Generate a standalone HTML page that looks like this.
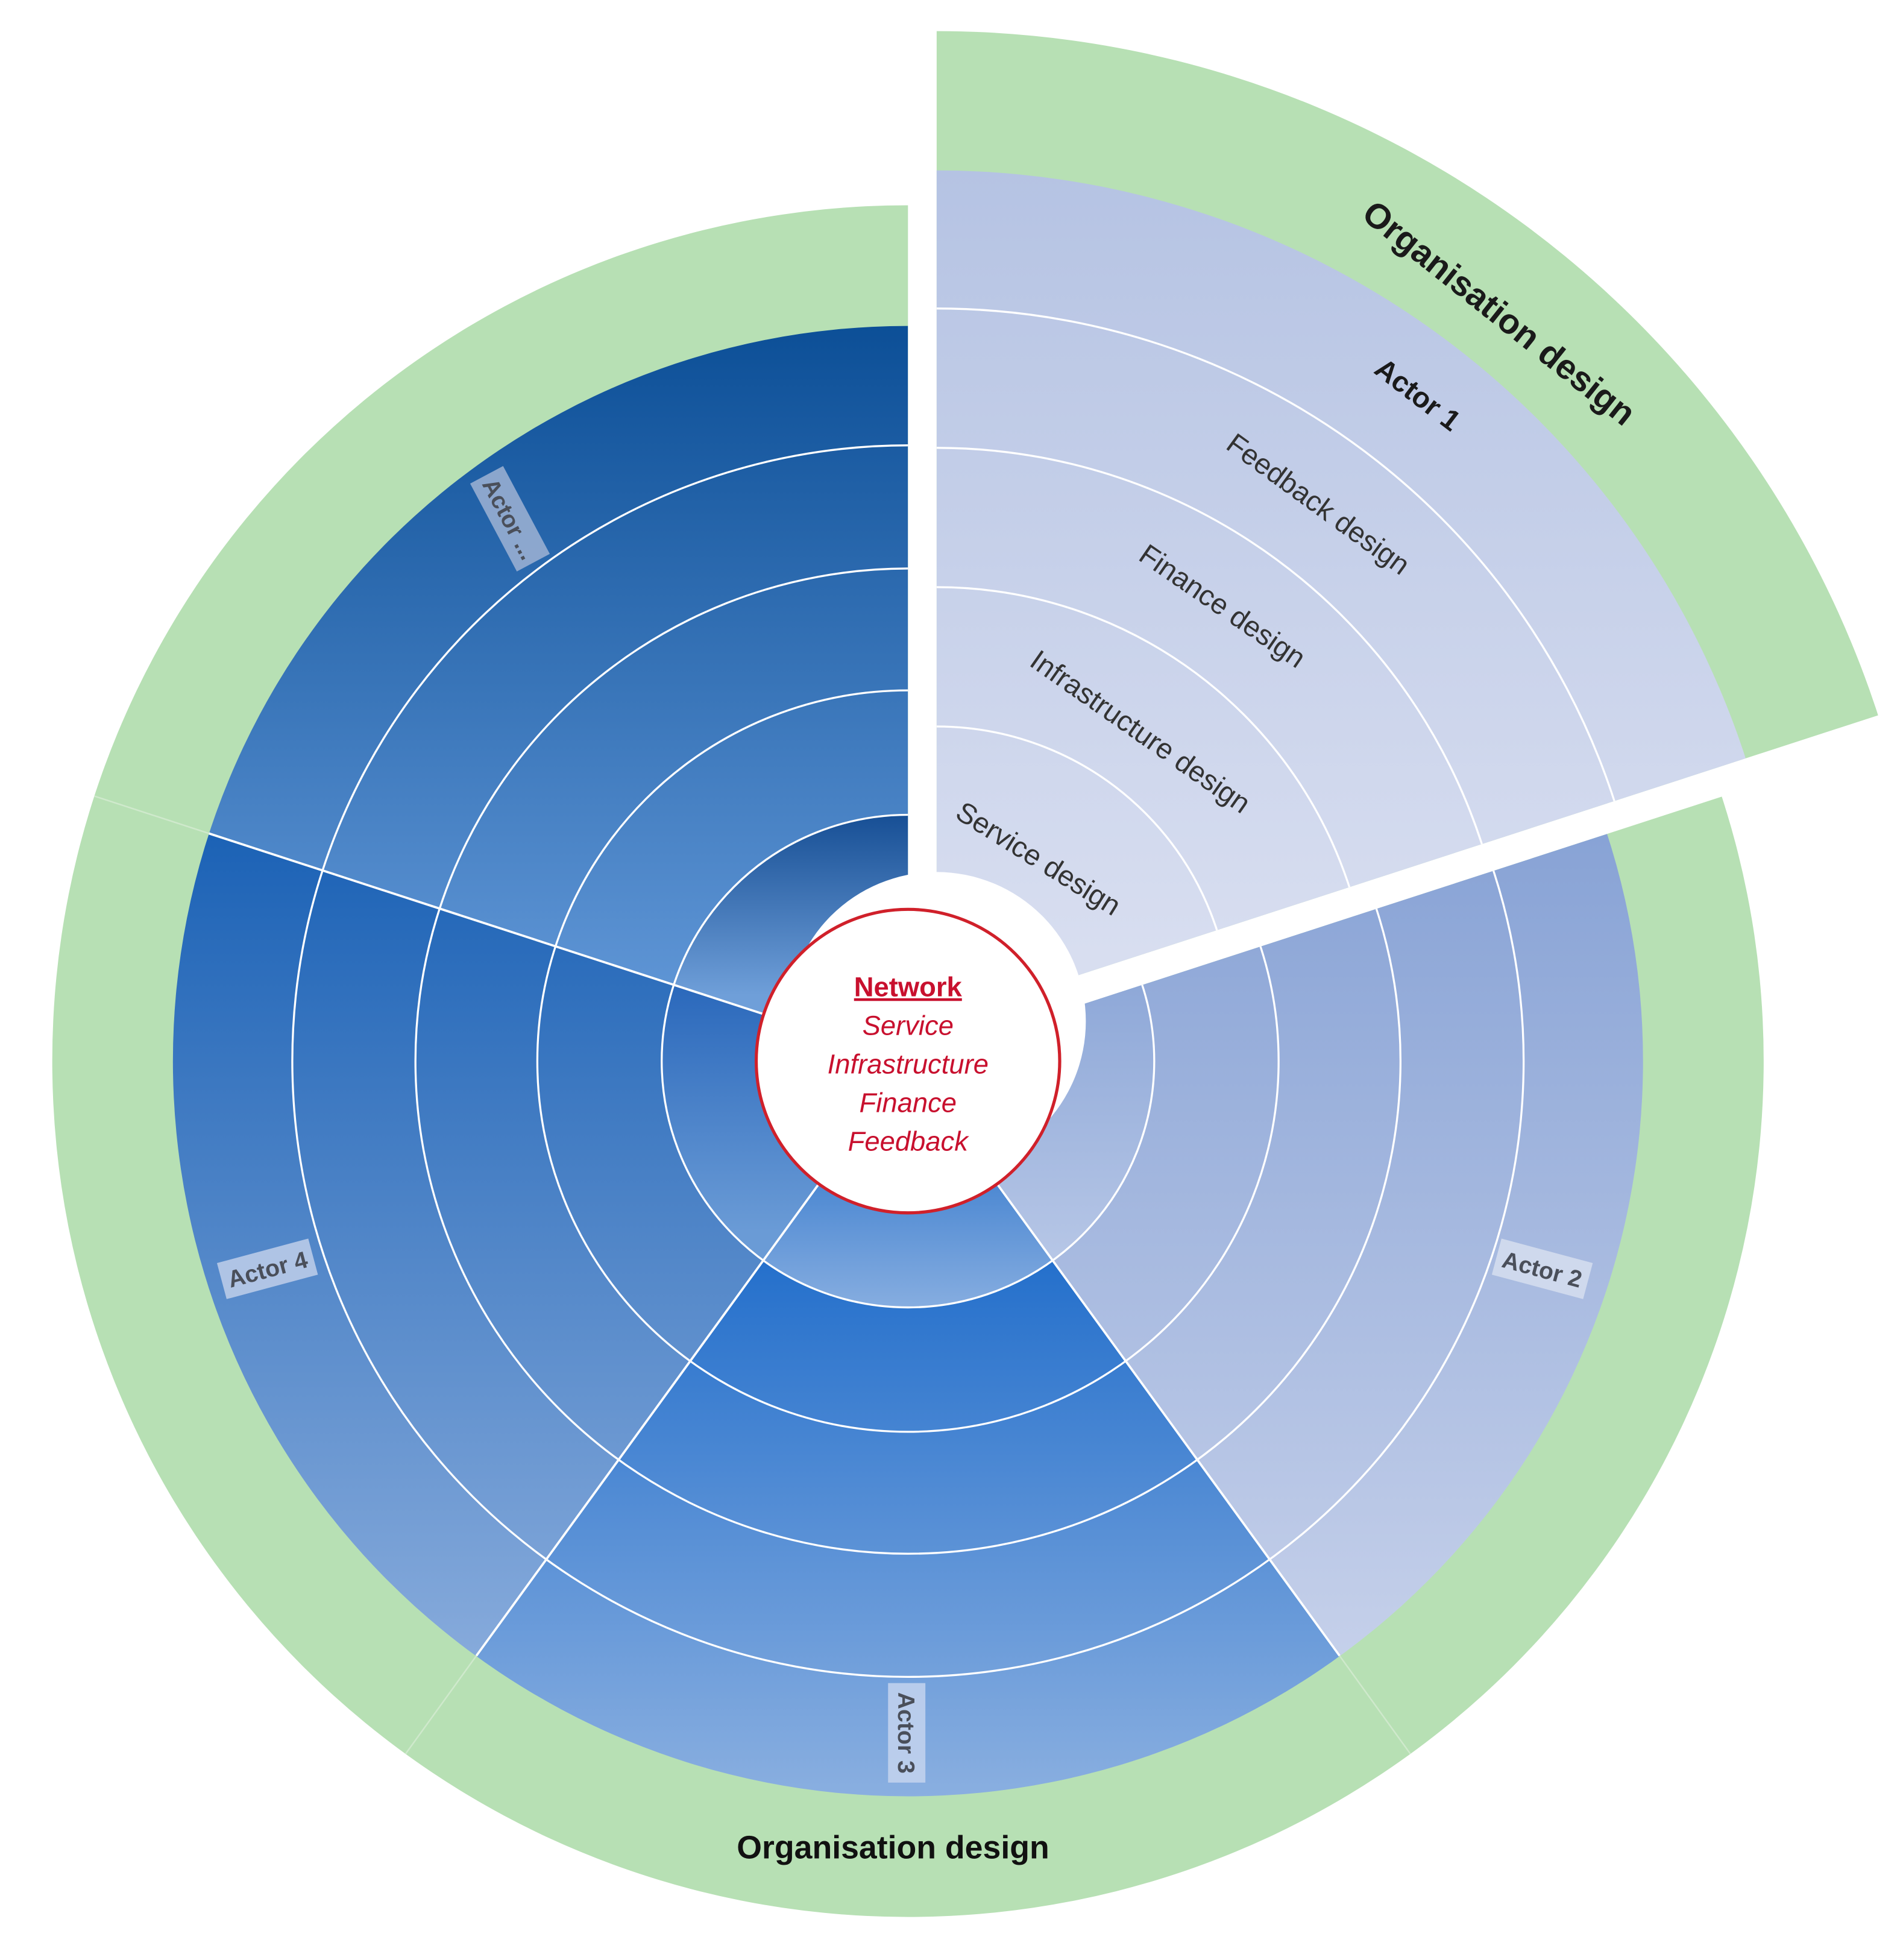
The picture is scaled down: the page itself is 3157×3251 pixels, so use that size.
<!DOCTYPE html>
<html><head><meta charset="utf-8"><style>html,body{margin:0;padding:0;background:#fff}svg{display:block}</style></head>
<body>
<svg width="3157" height="3251" viewBox="0 0 1530 1575.6" xmlns="http://www.w3.org/2000/svg" font-family="'Liberation Sans', sans-serif">
<defs>
<linearGradient id="g5" gradientUnits="userSpaceOnUse" x1="0" y1="262" x2="0" y2="820"><stop offset="0" stop-color="#0c4f97"/><stop offset="1" stop-color="#6298d8"/></linearGradient>
<linearGradient id="g4" gradientUnits="userSpaceOnUse" x1="0" y1="660" x2="0" y2="1330"><stop offset="0" stop-color="#1a61b5"/><stop offset="1" stop-color="#86aadb"/></linearGradient>
<linearGradient id="g3" gradientUnits="userSpaceOnUse" x1="0" y1="960" x2="0" y2="1445"><stop offset="0" stop-color="#1868c9"/><stop offset="1" stop-color="#8aafe0"/></linearGradient>
<linearGradient id="g2" gradientUnits="userSpaceOnUse" x1="0" y1="660" x2="0" y2="1330"><stop offset="0" stop-color="#87a2d5"/><stop offset="1" stop-color="#c5d0ea"/></linearGradient>
<linearGradient id="g1" gradientUnits="userSpaceOnUse" x1="0" y1="137" x2="0" y2="770"><stop offset="0" stop-color="#b5c3e3"/><stop offset="1" stop-color="#d8def0"/></linearGradient>
<linearGradient id="i5" gradientUnits="userSpaceOnUse" x1="0" y1="655" x2="0" y2="800"><stop offset="0" stop-color="#174f95"/><stop offset="1" stop-color="#6f9fd9"/></linearGradient>
<linearGradient id="i3" gradientUnits="userSpaceOnUse" x1="0" y1="950" x2="0" y2="1051"><stop offset="0" stop-color="#4c88d2"/><stop offset="1" stop-color="#86ade0"/></linearGradient>
<linearGradient id="i4" gradientUnits="userSpaceOnUse" x1="0" y1="790" x2="0" y2="990"><stop offset="0" stop-color="#2a68bb"/><stop offset="1" stop-color="#6a9bd6"/></linearGradient>
<linearGradient id="i2" gradientUnits="userSpaceOnUse" x1="0" y1="790" x2="0" y2="1010"><stop offset="0" stop-color="#8ea8d8"/><stop offset="1" stop-color="#b6c6e6"/></linearGradient>
<clipPath id="c2"><polygon points="730,853 1681,544 1681,1162 1318,1662"/></clipPath>
<clipPath id="c3"><polygon points="730,853 1318,1662 730,1853 142,1662"/></clipPath>
<clipPath id="c4"><polygon points="730,853 142,1662 -221,1162 -221,544"/></clipPath>
<clipPath id="c5"><polygon points="730,853 -221,544 142,44 730,-147"/></clipPath>
<clipPath id="cm"><polygon points="730,853 1681,544 1681,1162 1318,1662 730,1853 142,1662 -221,1162 -221,544 142,44 730,-147"/></clipPath>
<clipPath id="c1"><polygon points="753,821 1704,512 1341,12 753,-179"/></clipPath>
</defs>

<circle cx="730" cy="853" r="688" fill="#b7e0b4" clip-path="url(#cm)"/>

<g clip-path="url(#c2)"><circle cx="730" cy="853" r="591" fill="url(#g2)"/><circle cx="730" cy="853" r="198" fill="url(#i2)"/></g>
<g clip-path="url(#c3)"><circle cx="730" cy="853" r="591" fill="url(#g3)"/><circle cx="730" cy="853" r="198" fill="url(#i3)"/></g>
<g clip-path="url(#c4)"><circle cx="730" cy="853" r="591" fill="url(#g4)"/><circle cx="730" cy="853" r="198" fill="url(#i4)"/></g>
<g clip-path="url(#c5)"><circle cx="730" cy="853" r="591" fill="url(#g5)"/><circle cx="730" cy="853" r="198" fill="url(#i5)"/></g>

<g clip-path="url(#cm)" fill="none" stroke="#ffffff" stroke-width="1.6">
<circle cx="730" cy="853" r="198"/>
<circle cx="730" cy="853" r="298"/>
<circle cx="730" cy="853" r="396"/>
<circle cx="730" cy="853" r="495"/>
</g>
<g stroke="#ffffff" stroke-width="1.8">
<line x1="730" y1="853" x2="1077" y2="1331"/>
<line x1="730" y1="853" x2="383" y2="1331"/>
<line x1="730" y1="853" x2="168" y2="670"/>
</g>
<g stroke="#cfe9cc" stroke-width="1.2">
<line x1="1077" y1="1331" x2="1134" y2="1410"/>
<line x1="383" y1="1331" x2="326" y2="1410"/>
<line x1="168" y1="670" x2="76" y2="640"/>
</g>

<g clip-path="url(#c1)">
<circle cx="753" cy="821" r="796" fill="#b7e0b4"/>
<circle cx="753" cy="821" r="684" fill="url(#g1)"/>
<g fill="none" stroke="#ffffff" stroke-width="1.6">
<circle cx="753" cy="821" r="237"/>
<circle cx="753" cy="821" r="349"/>
<circle cx="753" cy="821" r="461"/>
<circle cx="753" cy="821" r="573"/>
</g>
</g>
<circle cx="753" cy="821" r="120" fill="#ffffff"/>

<circle cx="730" cy="853" r="122" fill="#ffffff" stroke="#d0202a" stroke-width="2.5"/>
<g fill="#c8102e" font-size="22" text-anchor="middle">
<text x="730" y="801" font-weight="bold" text-decoration="underline">Network</text>
<text x="730" y="832" font-style="italic">Service</text>
<text x="730" y="863" font-style="italic">Infrastructure</text>
<text x="730" y="894" font-style="italic">Finance</text>
<text x="730" y="925" font-style="italic">Feedback</text>
</g>

<g fill="#1a1a1a" text-anchor="middle">
<text transform="translate(1205,252) rotate(38.5)" font-size="28" font-weight="bold" dy="9">Organisation design</text>
<text transform="translate(1140,317) rotate(37.5)" font-size="23" font-weight="bold" dy="8">Actor 1</text>
<text transform="translate(1060,405) rotate(36)" font-size="23" fill="#333" dy="8">Feedback design</text>
<text transform="translate(983,487) rotate(34.5)" font-size="23" fill="#333" dy="8">Finance design</text>
<text transform="translate(917,588) rotate(35)" font-size="23" fill="#333" dy="8">Infrastructure design</text>
<text transform="translate(835,690) rotate(32)" font-size="23" fill="#333" dy="8">Service design</text>
</g>

<text x="718" y="1494" font-size="26" font-weight="bold" text-anchor="middle" fill="#111">Organisation design</text>

<g font-size="19" font-weight="bold" fill="#4a4f5a" text-anchor="middle">
<g transform="translate(1240,1020) rotate(15)"><rect x="-38" y="-15" width="76" height="30" fill="#d6deef" opacity="0.85"/><text dy="7">Actor 2</text></g>
<g transform="translate(729,1393) rotate(90)"><rect x="-40" y="-15" width="80" height="30" fill="#c4d4ee" opacity="0.85"/><text dy="7">Actor 3</text></g>
<g transform="translate(215,1020) rotate(-15)"><rect x="-38" y="-15" width="76" height="30" fill="#c0cfea" opacity="0.85"/><text dy="7">Actor 4</text></g>
<g transform="translate(410,417) rotate(62)"><rect x="-40" y="-15" width="80" height="30" fill="#9fb3d3" opacity="0.85"/><text dy="7">Actor ...</text></g>
</g>
</svg>
</body></html>
